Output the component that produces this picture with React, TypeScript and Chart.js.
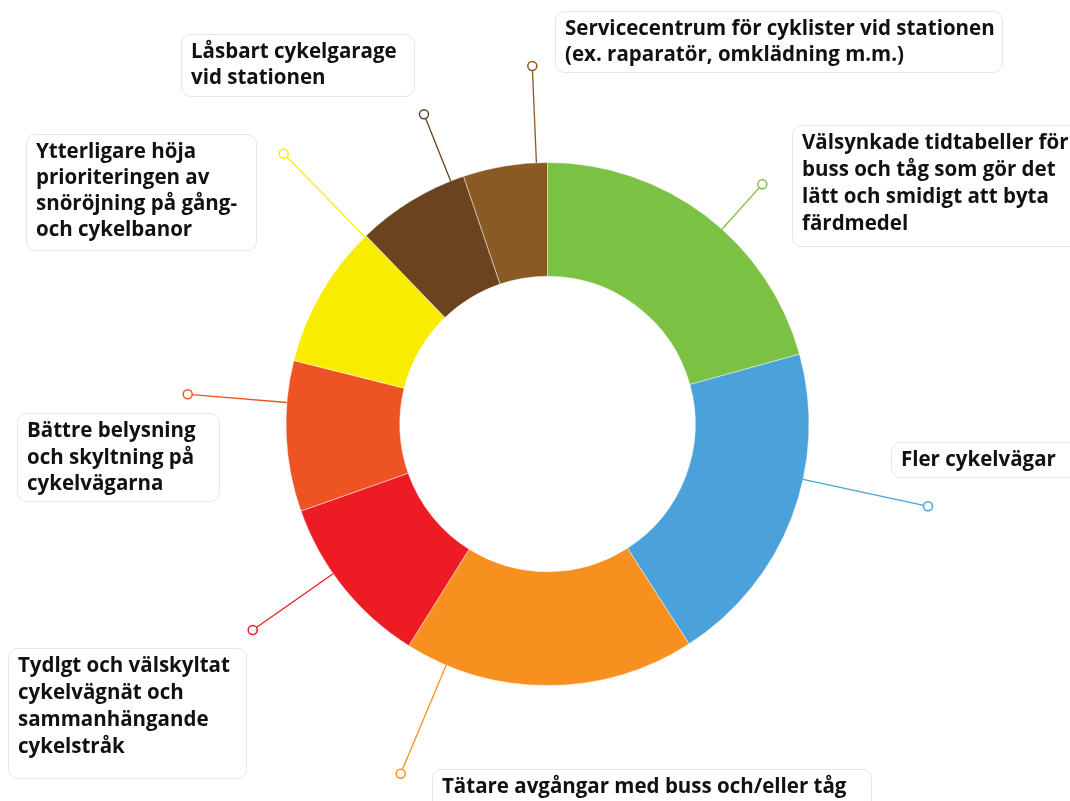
import React, { useEffect, useRef } from "react";
import { Chart, registerables } from "chart.js";

Chart.register(...registerables);

// ---- Data ----
const categories: string[][] = [
  ["Välsynkade tidtabeller för", "buss och tåg som gör det", "lätt och smidigt att byta", "färdmedel"],
  ["Fler cykelvägar"],
  ["Tätare avgångar med buss och/eller tåg"],
  ["Tydlgt och välskyltat", "cykelvägnät och", "sammanhängande", "cykelstråk"],
  ["Bättre belysning", "och skyltning på", "cykelvägarna"],
  ["Ytterligare höja", "prioriteringen av", "snöröjning på gång-", "och cykelbanor"],
  ["Låsbart cykelgarage", "vid stationen"],
  ["Servicecentrum för cyklister vid stationen", "(ex. raparatör, omklädning m.m.)"],
];
const values: number[] = [20.7, 20.2, 18.0, 10.7, 9.3, 8.9, 7.0, 5.2];
const colors: string[] = ["#7BC143", "#4BA2DA", "#F7901F", "#ED1C24", "#EE5323", "#F9EC00", "#6B431E", "#895A24"];

// ---- Label layout (annotation placement, not data) ----
const markerPoints: [number, number][] = [
  [762.3, 184.3], [928, 506.3], [400.7, 773.7], [252.7, 630],
  [187.7, 394.3], [283.7, 153.7], [424, 114.3], [532.3, 66],
];
const boxRects: [number, number, number, number][] = [
  [792, 125, 290, 121],
  [891, 442, 190, 35],
  [432, 769, 439, 50],
  [8, 648, 238, 130],
  [17, 413, 202, 88],
  [26, 134, 230, 116],
  [181, 34, 233, 62],
  [555, 11, 447, 61],
];
const boxLineHeights: number[] = [27, 27, 27, 27, 26.3, 26, 26, 26];

const calloutPlugin = {
  id: "callouts",
  afterDraw(chart: any) {
    const ctx: CanvasRenderingContext2D = chart.ctx;
    const meta = chart.getDatasetMeta(0);
    ctx.save();
    meta.data.forEach((arc: any, i: number) => {
      const cx = arc.x, cy = arc.y, r = arc.outerRadius;
      const [mx, my] = markerPoints[i];
      const dx = mx - cx, dy = my - cy;
      const d = Math.sqrt(dx * dx + dy * dy);
      const sx = cx + (dx / d) * r, sy = cy + (dy / d) * r;
      const ex = mx - (dx / d) * 4.5, ey = my - (dy / d) * 4.5;
      ctx.strokeStyle = colors[i];
      ctx.lineWidth = 1.3;
      ctx.beginPath();
      ctx.moveTo(sx, sy);
      ctx.lineTo(ex, ey);
      ctx.stroke();
      ctx.beginPath();
      ctx.arc(mx, my, 4.5, 0, Math.PI * 2);
      ctx.fillStyle = "#ffffff";
      ctx.fill();
      ctx.lineWidth = 1.5;
      ctx.stroke();

      const [bx, by, bw, bh] = boxRects[i];
      ctx.beginPath();
      (ctx as any).roundRect(bx + 0.5, by + 0.5, bw, bh, 9);
      ctx.fillStyle = "#ffffff";
      ctx.fill();
      ctx.strokeStyle = "#e6e6e6";
      ctx.lineWidth = 1;
      ctx.stroke();

      ctx.fillStyle = "#111111";
      ctx.font = "bold 20.5px 'Open Sans'";
      ctx.textBaseline = "middle";
      ctx.textAlign = "left";
      const lh = boxLineHeights[i];
      categories[i].forEach((line, j) => {
        ctx.fillText(line, bx + 10, by + 18.5 + j * lh);
      });
    });
    ctx.restore();
  },
};

export default function App() {
  const ref = useRef<HTMLCanvasElement>(null);
  useEffect(() => {
    if (!ref.current) return;
    const chart = new Chart(ref.current, {
      type: "doughnut",
      data: {
        labels: categories.map((c) => c.join(" ")),
        datasets: [
          {
            data: values,
            backgroundColor: colors,
            borderColor: "rgba(255,255,255,0.45)",
            borderWidth: 1,
          },
        ],
      },
      options: {
        responsive: false,
        animation: false,
        devicePixelRatio: 1,
        cutout: "56.5%",
        layout: { padding: { left: 285.5, right: 260.5, top: 162, bottom: 115 } },
        plugins: {
          legend: { display: false },
          tooltip: { enabled: false },
        },
      },
      plugins: [calloutPlugin],
    });
    return () => chart.destroy();
  }, []);
  return (
    <div style={{ position: "fixed", left: 0, top: 0, width: 1070, height: 801, background: "#ffffff" }}>
      <canvas ref={ref} width={1070} height={801} />
    </div>
  );
}
